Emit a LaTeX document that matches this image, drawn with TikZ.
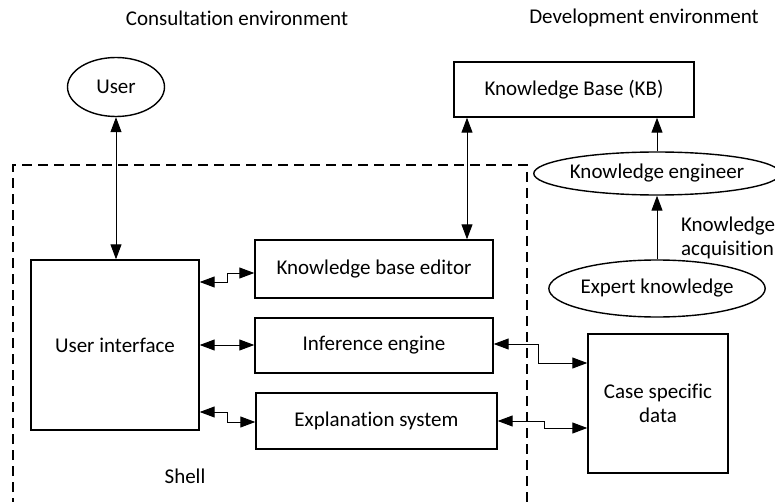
\documentclass[tikz,border=0pt]{standalone}
\usepackage{fontspec}
\setmainfont{Carlito}[Ligatures={NoCommon}]
\usetikzlibrary{shapes.geometric,arrows.meta}
\begin{document}
\begin{tikzpicture}[x=0.5pt,y=-0.5pt,
  font=\fontsize{10.5}{12}\selectfont,
  box/.style={draw,line width=0.7pt,rectangle,inner sep=0pt,align=center},
  oval/.style={draw,line width=0.7pt,ellipse,inner sep=0pt,align=center},
  link/.style={line width=0.5pt,{Triangle[length=7.5pt,width=5.5pt]}-{Triangle[length=7.5pt,width=5.5pt]}},
  uplink/.style={line width=0.5pt,-{Triangle[length=7.5pt,width=5.5pt]}},
  shellline/.style={line width=0.6pt,dash pattern=on 5pt off 3pt}]
\useasboundingbox (0,0) rectangle (775,502);
\clip (0,0) rectangle (775,502);

% headings
\node (hcons) at (237,18) {Consultation environment};
\node (hdev) at (644,18) {Development environment};

% shell boundary (open at the bottom of the page)
\draw[shellline] (13,540) -- (13,165) -- (527,165) -- (527,540);
\node (shell) at (185,476) {Shell};

% consultation side
\node[oval,minimum width=48.5pt,minimum height=29.5pt] (user) at (116,87) {User};
\node[box,minimum width=84pt,minimum height=85pt] (ui) at (115,345) {User interface};
\node[box,minimum width=119pt,minimum height=29pt] (kbe) at (374,269) {Knowledge base editor};
\node[box,minimum width=119pt,minimum height=27.5pt] (inf) at (374,345.5) {Inference engine};
\node[box,minimum width=120.5pt,minimum height=28pt] (exp) at (376.5,421) {Explanation system};
\node[box,minimum width=70pt,minimum height=69.5pt] (csd) at (658,403.5) {Case specific\\data};

% development side
\node[box,minimum width=120pt,minimum height=27.5pt] (kb) at (574,89.5) {Knowledge Base (KB)};
\node[oval,minimum width=120pt,minimum height=21.5pt] (ke) at (657,173.5) {Knowledge engineer};
\node[oval,minimum width=107pt,minimum height=28.5pt] (ek) at (657,288.5) {Expert knowledge};
\node[align=left,anchor=west] (acq) at (674,238) {Knowledge\\acquisition};

% connectors
\draw[link] (user.south) -- (ui.north -| user.south);
\draw[link] (kbe.north -| 467,0) -- (kb.south -| 467,0);
\draw[uplink] (ek.north) -- (ke.south);
\draw[uplink] (ke.north) -- (kb.south -| ke.north);

\draw[link] (ui.east |- 0,282) -- (227,282) -- (227,273) -- (kbe.west |- 0,273);
\draw[link] (ui.east |- 0,345) -- (inf.west |- 0,345);
\draw[link] (ui.east |- 0,412) -- (227,412) -- (227,422) -- (exp.west |- 0,422);

\draw[link] (inf.east |- 0,344) -- (538,344) -- (538,363) -- (csd.west |- 0,363);
\draw[link] (exp.east |- 0,421) -- (544,421) -- (544,428) -- (csd.west |- 0,428);
\end{tikzpicture}
\end{document}
